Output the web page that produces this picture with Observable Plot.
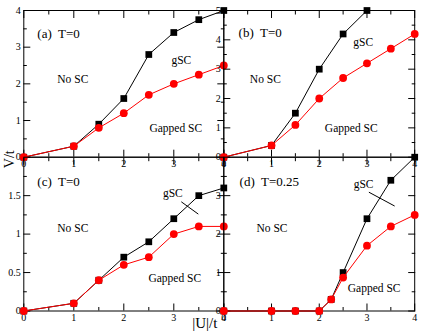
<!DOCTYPE html>
<html><head><meta charset="utf-8">
<script src="https://cdn.jsdelivr.net/npm/d3@7"></script>
<script src="https://cdn.jsdelivr.net/npm/@observablehq/plot@0.6"></script>
<style>
html,body{margin:0;padding:0;background:#fff;}
#chart{position:relative;width:430px;height:332px;overflow:hidden;background:#fff;}
#chart svg{position:absolute;left:0;top:0;overflow:visible;}
#chart svg text{white-space:pre;}
</style></head><body><div id="chart"></div>
<script>
// ---------- data ----------
const U_a = [0, 1, 1.5, 2, 2.5, 3, 3.5, 4];
const gSC_a = [0, 0.3, 0.9, 1.6, 2.8, 3.4, 3.75, 4.0];
const gapped_a = [0, 0.3, 0.8, 1.2, 1.7, 2.0, 2.25, 2.5];

const U_b_gSC = [0, 1, 1.5, 2, 2.5, 3];
const gSC_b = [0, 0.4, 1.5, 3.0, 4.2, 5.0];
const U_b = [0, 1, 1.5, 2, 2.5, 3, 3.5, 4];
const gapped_b = [0, 0.4, 1.1, 2.0, 2.7, 3.2, 3.7, 4.2];

const U_c = [0, 1, 1.5, 2, 2.5, 3, 3.5, 4];
const gSC_c = [0, 0.1, 0.4, 0.7, 0.9, 1.2, 1.5, 1.6];
const gapped_c = [0, 0.1, 0.4, 0.6, 0.7, 1.0, 1.1, 1.1];

const U_d = [0, 1, 1.5, 2, 2.25, 2.5, 3, 3.5, 4];
const gSC_d = [0, 0, 0, 0, 0.3, 1.0, 2.4, 3.4, 4.0];
const gapped_d = [0, 0, 0, 0, 0.3, 0.87, 1.7, 2.2, 2.5];

const panelLabels = ["(a)  T=0", "(b)  T=0", "(c)  T=0", "(d)  T=0.25"];
const regionLabels = ["No SC", "gSC", "Gapped SC"];
const xLabel = "|U|/t";
const yLabel = "V/t";

const xTicks = [0, 1, 2, 3, 4];
const xMinor = [0.5, 1.5, 2.5, 3.5];
const yTicks_a = [0, 1, 2, 3, 4];
const yMinor_a = [0.5, 1.5, 2.5, 3.5];
const yTicks_b = [0, 1, 2, 3, 4, 5];
const yMinor_b = [0.5, 1.5, 2.5, 3.5, 4.5];
const yTicks_c = [0, 0.5, 1, 1.5];
const yMinor_c = [0.25, 0.75, 1.25, 1.75];
const yTicks_d = [0, 1, 2, 3];
const yMinor_d = [0.5, 1.5, 2.5, 3.5];

// ---------- layout (positions in data units / pixels) ----------
const W = 430, H = 332;
const cols = [[23.3, 223.3], [223.3, 414.2]];
const rows = [[10, 156.7], [156.7, 310.5]];
const FONT = "'Liberation Serif', 'Times New Roman', serif";

const panels = [
  {col: 0, row: 0, ymax: 4, U1: U_a, s1: gSC_a, U2: U_a, s2: gapped_a, yT: yTicks_a, yM: yMinor_a,
   label: [0.27, 3.37], pos: [[0.98, 2.12], [3.15, 2.64], [3.04, 0.78]], pointer: null},
  {col: 1, row: 0, ymax: 5, U1: U_b_gSC, s1: gSC_b, U2: U_b, s2: gapped_b, yT: yTicks_b, yM: yMinor_b,
   label: [0.31, 4.25], pos: [[0.87, 2.65], [2.92, 3.91], [2.67, 0.98]], pointer: null},
  {col: 0, row: 1, ymax: 2, U1: U_c, s1: gSC_c, U2: U_c, s2: gapped_c, yT: yTicks_c, yM: yMinor_c,
   label: [0.27, 1.68], pos: [[0.98, 1.07], [2.98, 1.53], [3.02, 0.42]], pointer: [3.15, 1.42, 3.49, 1.26]},
  {col: 1, row: 1, ymax: 4, U1: U_d, s1: gSC_d, U2: U_d, s2: gapped_d, yT: yTicks_d, yM: yMinor_d,
   label: [0.33, 3.37], pos: [[1.01, 2.15], [2.93, 3.29], [3.15, 0.58]], pointer: [3.04, 3.09, 3.58, 2.73]}
];

function tickMarks(yT, yM) {
  const blank = () => "";
  const m = [];
  for (const [ticks, size] of [[xTicks, 7], [xMinor, 3.5]]) {
    m.push(Plot.axisX(ticks, {anchor: "bottom", tickSize: -size, tickFormat: blank, label: null}));
    m.push(Plot.axisX(ticks, {anchor: "top", tickSize: -size, tickFormat: blank, label: null}));
  }
  for (const [ticks, size] of [[yT, 7], [yM, 3.5]]) {
    m.push(Plot.axisY(ticks, {anchor: "left", tickSize: -size, tickFormat: blank, label: null}));
    m.push(Plot.axisY(ticks, {anchor: "right", tickSize: -size, tickFormat: blank, label: null}));
  }
  m.push(Plot.axisX(xTicks, {anchor: "bottom", tickSize: 0, tickPadding: 3, tickFormat: d => String(d), label: null}));
  m.push(Plot.axisY(yT, {anchor: "left", tickSize: 0, tickPadding: 3, tickFormat: d => String(d), label: null}));
  return m;
}

const chart = document.getElementById("chart");
panels.forEach((p, i) => {
  const [x0, x1] = cols[p.col];
  const [y0, y1] = rows[p.row];
  const black = p.U1.map((u, k) => ({u, v: p.s1[k]}));
  const red = p.U2.map((u, k) => ({u, v: p.s2[k]}));
  const texts = regionLabels.map((t, k) => ({t, x: p.pos[k][0], y: p.pos[k][1]}));
  const marks = [
    Plot.frame({stroke: "black", strokeWidth: 1}),
    ...tickMarks(p.yT, p.yM),
    Plot.line(black, {x: "u", y: "v", stroke: "black", strokeWidth: 1}),
    Plot.dot(black, {x: "u", y: "v", symbol: "square", r: 3.8, fill: "black", stroke: null}),
    Plot.line(red, {x: "u", y: "v", stroke: "#ff0000", strokeWidth: 1}),
    Plot.dot(red, {x: "u", y: "v", symbol: "circle", r: 3.9, fill: "#ff0000", stroke: null}),
    Plot.text(texts, {x: "x", y: "y", text: "t", fontSize: 11.5, fill: "black"}),
    Plot.text([panelLabels[i]], {x: () => p.label[0], y: () => p.label[1], text: d => d, textAnchor: "start", fontSize: 13, fill: "black"})
  ];
  if (p.pointer) {
    marks.push(Plot.link([p.pointer], {x1: d => d[0], y1: d => d[1], x2: d => d[2], y2: d => d[3], stroke: "black", strokeWidth: 1}));
  }
  if (i === 0) {
    marks.push(Plot.text([yLabel], {frameAnchor: "bottom-left", textAnchor: "middle", lineAnchor: "middle", rotate: -90, dx: -14, dy: 2, fontSize: 14, text: d => d, fill: "black"}));
  }
  if (i === 2) {
    marks.push(Plot.text([xLabel], {frameAnchor: "bottom-right", textAnchor: "middle", lineAnchor: "middle", dx: -19, dy: 12.5, fontSize: 15, text: d => d, fill: "black"}));
  }
  const svg = Plot.plot({
    width: W, height: H,
    marginLeft: x0, marginRight: W - x1, marginTop: y0, marginBottom: H - y1,
    x: {domain: [0, 4]},
    y: {domain: [0, p.ymax]},
    style: {fontFamily: FONT, fontSize: "10px", background: "transparent", overflow: "visible", color: "black"},
    marks
  });
  chart.appendChild(svg);
});
</script></body></html>
